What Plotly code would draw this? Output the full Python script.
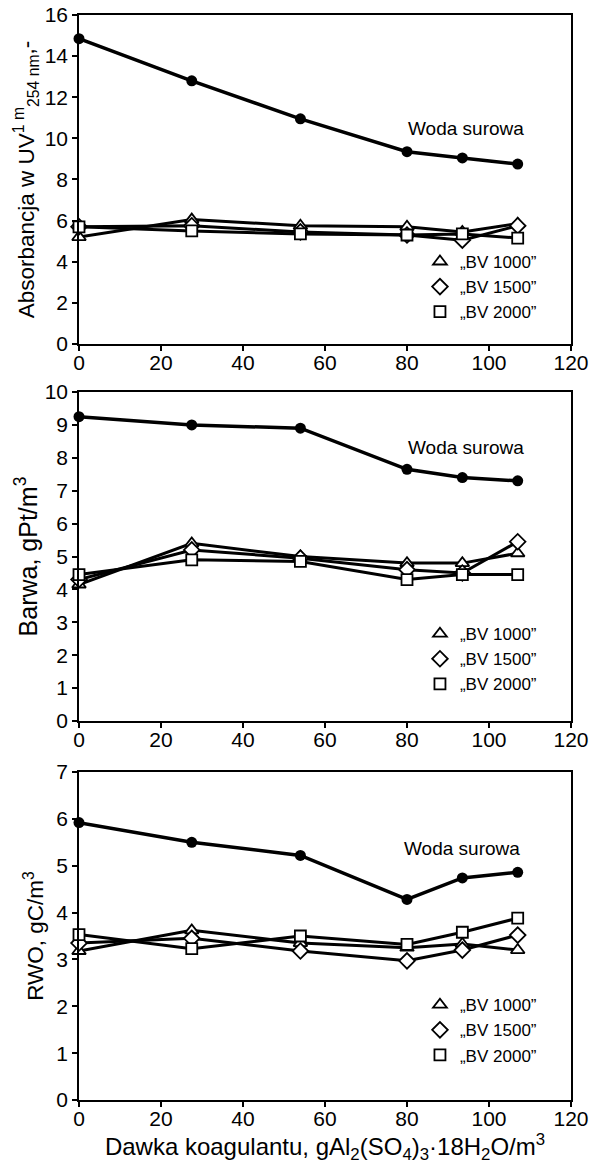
import plotly.graph_objects as go

# ---------------- data ----------------
dose = [0, 27.5, 54, 80, 93.5, 107]

uv_raw = [14.85, 12.8, 10.95, 9.35, 9.05, 8.75]
uv_bv1000 = [5.2, 6.05, 5.75, 5.7, 5.45, 5.85]
uv_bv1500 = [5.7, 5.75, 5.45, 5.3, 5.05, 5.75]
uv_bv2000 = [5.7, 5.5, 5.35, 5.3, 5.35, 5.15]

col_raw = [9.25, 9.0, 8.9, 7.65, 7.4, 7.3]
col_bv1000 = [4.15, 5.4, 5.0, 4.8, 4.8, 5.1]
col_bv1500 = [4.3, 5.2, 4.95, 4.6, 4.5, 5.45]
col_bv2000 = [4.45, 4.9, 4.85, 4.3, 4.45, 4.45]

doc_raw = [5.92, 5.5, 5.22, 4.28, 4.74, 4.86]
doc_bv1000 = [3.18, 3.62, 3.35, 3.25, 3.33, 3.2]
doc_bv1500 = [3.35, 3.45, 3.18, 2.97, 3.2, 3.52]
doc_bv2000 = [3.53, 3.23, 3.5, 3.32, 3.58, 3.88]

series_names = ["\u201eBV 1000\u201d", "\u201eBV 1500\u201d", "\u201eBV 2000\u201d"]
raw_label = "Woda surowa"

y_titles = [
    "Absorbancja w UV<sup>1 m</sup><sub>254 nm</sub>,-",
    "Barwa, gPt/m<sup>3</sup>",
    "RWO, gC/m<sup>3</sup>",
]
x_title = "Dawka koagulantu, gAl<sub>2</sub>(SO<sub>4</sub>)<sub>3</sub>\u00b718H<sub>2</sub>O/m<sup>3</sup>"

y_ranges = [(0, 16, 2), (0, 10, 1), (0, 7, 1)]
raw_label_pos = [(94.3, 10.5), (94.3, 8.3), (93.3, 5.36)]

# ---------------- style ----------------
FONT = "Liberation Sans, Arial, sans-serif"
symbols = ["triangle-up", "diamond", "square"]
symbol_sizes = [12, 12, 11]
y_title_sizes = [22.5, 25, 22.5]
y_title_standoff = [4, 0, 6]

panels = [
    (uv_raw, [uv_bv1000, uv_bv1500, uv_bv2000]),
    (col_raw, [col_bv1000, col_bv1500, col_bv2000]),
    (doc_raw, [doc_bv1000, doc_bv1500, doc_bv2000]),
]
domains = [(0.6968, 1.0), (0.3493, 0.6525), (0.0, 0.3023)]
legend_y = [0.789, 0.446, 0.104]

fig = go.Figure()

for i, (raw, bvs) in enumerate(panels):
    xa = "x" if i == 0 else f"x{i+1}"
    ya = "y" if i == 0 else f"y{i+1}"
    lg = "legend" if i == 0 else f"legend{i+1}"
    fig.add_trace(go.Scatter(
        x=dose, y=raw, mode="lines+markers", xaxis=xa, yaxis=ya,
        line=dict(color="black", width=3.5),
        marker=dict(symbol="circle", size=11, color="black"),
        showlegend=False, cliponaxis=False, name=raw_label,
    ))
    for j, vals in enumerate(bvs):
        fig.add_trace(go.Scatter(
            x=dose, y=vals, mode="lines+markers", xaxis=xa, yaxis=ya,
            line=dict(color="black", width=3),
            marker=dict(symbol=symbols[j], size=symbol_sizes[j], color="white",
                        line=dict(color="black", width=1.8)),
            showlegend=False, cliponaxis=False, name=series_names[j],
        ))
    for j in range(3):
        fig.add_trace(go.Scatter(
            x=[None], y=[None], mode="markers", xaxis=xa, yaxis=ya,
            marker=dict(symbol=symbols[j], size=symbol_sizes[j], color="white",
                        line=dict(color="black", width=1.8)),
            name=series_names[j], showlegend=True, legend=lg,
        ))
    fig.add_annotation(
        x=raw_label_pos[i][0], y=raw_label_pos[i][1], xref=xa, yref=ya,
        text=raw_label, showarrow=False, xanchor="center", yanchor="middle",
        font=dict(family=FONT, size=19, color="black"),
    )

axis_common = dict(
    showline=True, linecolor="black", linewidth=1.5, mirror=True,
    ticks="outside", ticklen=5, tickwidth=1.5, tickcolor="black",
    showgrid=False, zeroline=False, automargin=False,
    tickfont=dict(family=FONT, size=21, color="black"),
)

layout = dict(
    width=589, height=1164,
    margin=dict(l=79, r=18, t=15, b=64, autoexpand=False),
    paper_bgcolor="white", plot_bgcolor="white",
    font=dict(family=FONT, color="black"),
)

for i in range(3):
    xk = "xaxis" if i == 0 else f"xaxis{i+1}"
    yk = "yaxis" if i == 0 else f"yaxis{i+1}"
    xa = "x" if i == 0 else f"x{i+1}"
    ya = "y" if i == 0 else f"y{i+1}"
    y0, y1, dy = y_ranges[i]
    xd = dict(axis_common, range=[0, 120], tick0=0, dtick=20, anchor=ya,
              domain=[0, 1], ticklabelstandoff=-6)
    if i == 2:
        xd["title"] = dict(text=x_title, font=dict(family=FONT, size=24, color="black"),
                           standoff=14)
    layout[xk] = xd
    layout[yk] = dict(axis_common, range=[y0, y1], tick0=0, dtick=dy, anchor=xa,
                      domain=list(domains[i]), ticklabelstandoff=0,
                      title=dict(text=y_titles[i],
                                 font=dict(family=FONT, size=y_title_sizes[i], color="black"),
                                 standoff=y_title_standoff[i]))
    lk = "legend" if i == 0 else f"legend{i+1}"
    layout[lk] = dict(
        x=0.693, y=legend_y[i], xanchor="left", yanchor="top",
        xref="paper", yref="paper",
        bgcolor="rgba(0,0,0,0)", borderwidth=0, itemwidth=30,
        font=dict(family=FONT, size=17, color="black"),
        tracegroupgap=0,
    )

fig.update_layout(**layout)
fig.write_html("out.html")
